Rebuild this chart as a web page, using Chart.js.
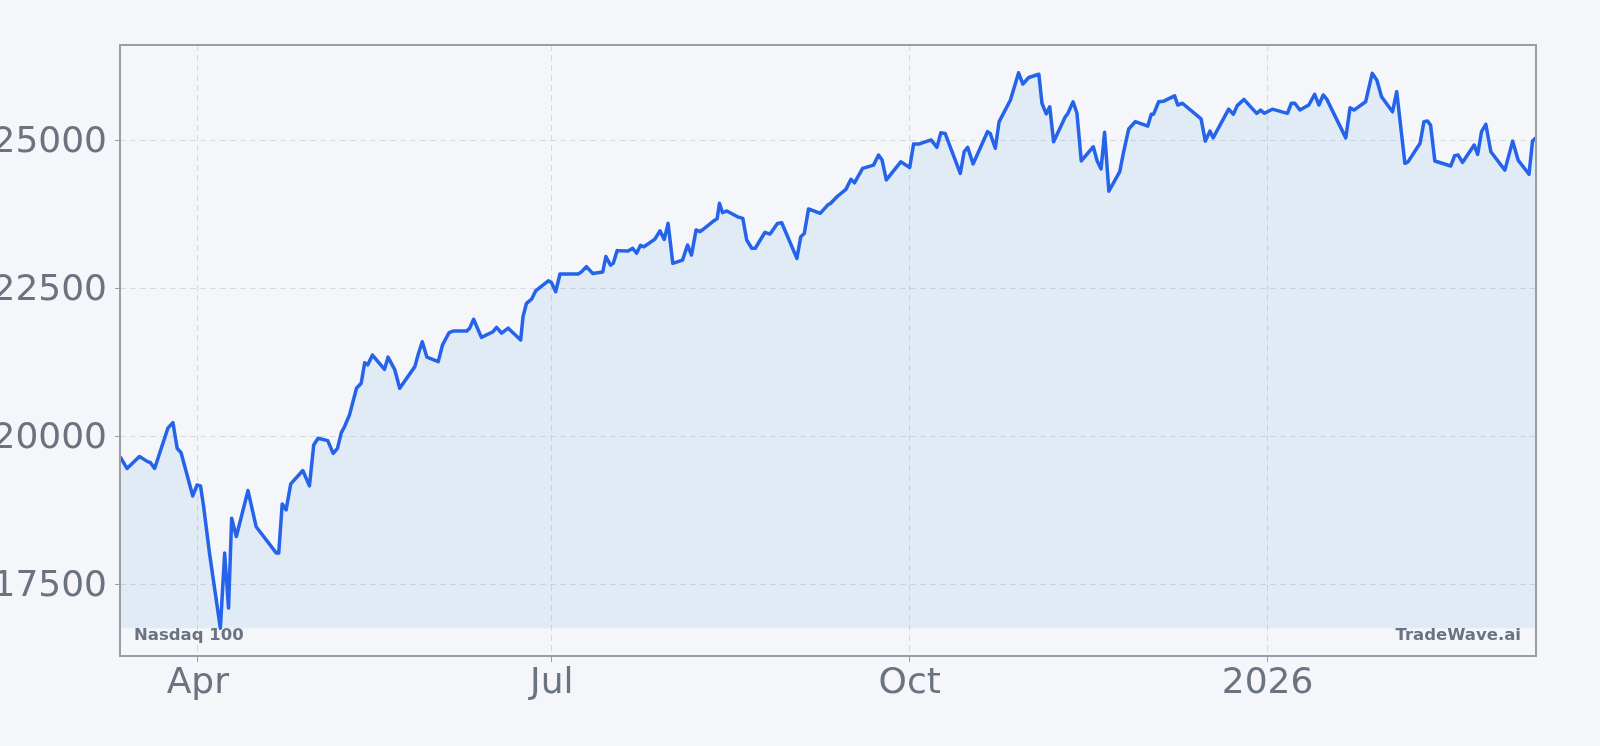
<!DOCTYPE html>
<html>
<head>
<meta charset="utf-8">
<script src="https://cdn.jsdelivr.net/npm/chart.js@4.4.1/dist/chart.umd.min.js"></script>
<style>
html,body{margin:0;padding:0;background:#f4f6f9;}
#wrap{width:1600px;height:746px;position:relative;}
canvas{display:block;}
</style>
</head>
<body>
<div id="wrap"><canvas id="c" width="1600" height="746"></canvas></div>
<script>
// ---- data ----
const seriesName = 'Nasdaq 100';
const sourceLabel = 'TradeWave.ai';
const startDate = '2025-03-12';
const dayOffsets = [0,1.8,5.0,7.1,7.8,8.9,12.3,13.6,14.7,15.7,18.7,19.8,20.7,21.5,23.0,25.8,26.9,27.9,28.7,29.9,32.9,35.0,40.2,40.8,41.7,42.7,43.9,47.0,48.7,49.8,50.9,53.4,54.8,55.9,56.9,57.7,59.0,60.8,62.0,62.9,63.7,64.9,68.0,68.9,70.6,71.9,75.8,76.6,77.7,78.9,81.8,82.9,84.6,85.6,89.1,89.9,90.9,92.9,95.9,96.8,98.1,99.8,103.0,103.6,104.5,105.8,106.9,108.8,110.1,110.9,112.0,113.1,117.8,118.7,119.9,121.5,124.1,124.9,126.1,126.8,127.8,130.6,131.8,132.8,133.8,134.7,137.5,138.8,139.9,140.9,142.1,144.6,145.9,146.9,148.1,149.1,150.4,152.7,153.5,154.1,154.9,156.0,159.0,160.1,161.1,162.4,163.3,165.8,167.1,169.0,170.1,174.0,175.0,175.9,177.0,180.0,181.9,182.7,184.3,186.6,187.9,188.8,190.9,193.7,195.0,195.9,197.0,200.7,203.0,204.0,205.3,208.5,210.0,211.0,212.1,216.0,217.0,217.9,219.3,223.0,223.7,225.0,226.0,228.9,231.0,232.1,233.6,236.2,237.0,238.1,239.0,240.0,243.0,243.6,245.0,246.0,247.1,250.2,251.2,252.2,253.1,254.2,257.0,258.0,259.3,261.0,264.2,265.1,265.7,267.0,268.3,271.1,271.9,273.1,277.9,279.0,280.2,281.0,285.0,286.2,287.2,288.9,292.2,293.2,294.2,296.2,300.1,301.1,302.0,303.3,305.6,307.1,308.2,309.3,310.2,315.1,316.2,317.2,320.2,321.9,323.1,324.3,327.1,328.2,330.3,331.1,334.2,335.2,336.1,336.9,338.0,342.1,343.1,344.0,345.1,348.1,349.0,350.0,351.1,352.4,356.0,358.0,359.4,362.2,363.1,364.0];
const closeValues = [19660,19460,19660,19575,19560,19460,20140,20235,19800,19725,18995,19180,19165,18815,18030,16760,18030,17100,18620,18310,19085,18475,18030,18030,18860,18760,19200,19425,19165,19855,19970,19930,19715,19800,20065,20165,20365,20815,20900,21245,21210,21375,21135,21340,21135,20815,21180,21375,21600,21340,21265,21545,21755,21780,21780,21830,21980,21675,21770,21845,21745,21830,21630,22025,22250,22320,22465,22560,22630,22600,22445,22745,22745,22785,22870,22755,22780,23040,22895,22925,23140,23135,23180,23095,23230,23205,23335,23475,23330,23600,22925,22980,23235,23065,23490,23460,23525,23645,23680,23940,23780,23810,23705,23685,23320,23180,23180,23450,23420,23600,23610,23010,23375,23430,23845,23770,23910,23940,24050,24175,24345,24285,24530,24585,24755,24670,24335,24640,24545,24940,24940,25010,24885,25130,25120,24445,24810,24885,24605,25150,25120,24870,25320,25685,26145,25955,26065,26120,25630,25450,25570,24980,25400,25450,25655,25460,24655,24895,24655,24520,25140,24145,24475,24810,25195,25320,25245,25445,25445,25655,25665,25755,25600,25630,25365,24990,25160,25045,25530,25445,25590,25695,25460,25515,25460,25530,25460,25630,25630,25515,25600,25780,25600,25770,25700,25045,25555,25515,25655,26135,26020,25740,25485,25825,24615,24640,24955,25320,25330,25260,24655,24570,24745,24755,24630,24925,24765,25150,25275,24810,24500,24990,24670,24430,24990,25045];
const tickDates = ['2025-04-01','2025-07-01','2025-10-01','2026-01-01'];
const tickLabels = ['Apr','Jul','Oct','2026'];
const yTicks = [17500,20000,22500,25000];

// ---- helpers ----
const dayMs = 86400000;
const toDay = s => Math.round((Date.parse(s + 'T00:00:00Z') - Date.parse(startDate + 'T00:00:00Z')) / dayMs);
const tickDays = tickDates.map(toDay);
const dataMin = Math.min(...closeValues);
const dataMax = Math.max(...closeValues);
const yPad = (dataMax - dataMin) * 0.05;

const textColor = '#6b7280';
const gridColor = '#d6dae0';
const frameColor = '#9a9da6';

const framePlugin = {
  id: 'frame',
  afterDatasetsDraw(chart) {
    const {ctx, chartArea: a} = chart;
    ctx.save();
    ctx.fillStyle = textColor;
    ctx.font = 'bold 16.5px "DejaVu Sans"';
    ctx.textBaseline = 'alphabetic';
    ctx.textAlign = 'left';
    ctx.fillText(seriesName, a.left + 14, a.bottom - 16);
    ctx.textAlign = 'right';
    ctx.fillText(sourceLabel, a.right - 15, a.bottom - 16);
    ctx.restore();
  },
  afterDraw(chart) {
    const {ctx, chartArea: a} = chart;
    ctx.save();
    ctx.strokeStyle = frameColor;
    ctx.lineWidth = 2;
    ctx.strokeRect(a.left, a.top, a.right - a.left, a.bottom - a.top);
    ctx.restore();
  }
};

new Chart(document.getElementById('c'), {
  type: 'line',
  data: {
    datasets: [{
      label: seriesName,
      data: dayOffsets.map((d, i) => ({x: d, y: closeValues[i]})),
      borderColor: '#2563eb',
      borderWidth: 3.5,
      borderJoinStyle: 'round',
      backgroundColor: 'rgba(54,136,219,0.1)',
      fill: {value: dataMin},
      pointRadius: 0,
      tension: 0
    }]
  },
  options: {
    responsive: false,
    animation: false,
    devicePixelRatio: 1,
    layout: {padding: {top: 45, right: 64, left: 0, bottom: 0}},
    plugins: {legend: {display: false}, tooltip: {enabled: false}},
    scales: {
      x: {
        type: 'linear',
        min: dayOffsets[0],
        max: dayOffsets[dayOffsets.length - 1],
        afterBuildTicks: s => { s.ticks = tickDays.map(v => ({value: v})); },
        afterFit: s => { s.height = 90; },
        grid: {color: gridColor, lineWidth: 1, drawTicks: true, tickLength: 6, tickColor: frameColor, tickBorderDash: []},
        border: {display: false, dash: [6, 4]},
        ticks: {
          autoSkip: false, maxRotation: 0, padding: 0,
          color: textColor,
          font: {family: '"DejaVu Sans"', size: 36},
          callback: (v, i) => tickLabels[i]
        }
      },
      y: {
        type: 'linear',
        min: dataMin - yPad,
        max: dataMax + yPad,
        afterBuildTicks: s => { s.ticks = yTicks.map(v => ({value: v})); },
        afterFit: s => { s.width = 120; },
        grid: {color: gridColor, lineWidth: 1, drawTicks: true, tickLength: 5, tickColor: frameColor, tickBorderDash: []},
        border: {display: false, dash: [6, 4]},
        ticks: {
          padding: 8,
          labelOffset: 2,
          color: textColor,
          font: {family: '"DejaVu Sans"', size: 36},
          callback: v => String(v)
        }
      }
    }
  },
  plugins: [framePlugin]
});
</script>
</body>
</html>
